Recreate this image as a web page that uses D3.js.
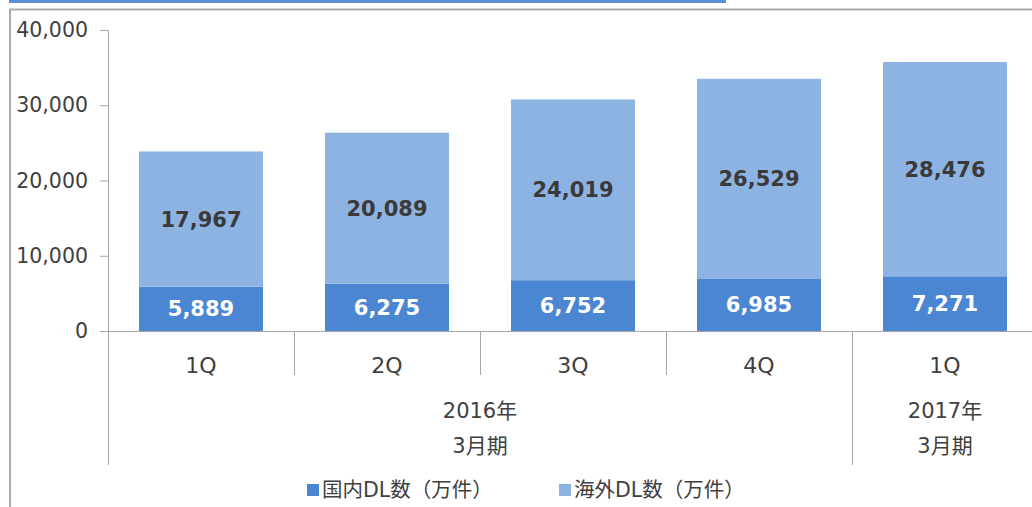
<!DOCTYPE html>
<html>
<head>
<meta charset="utf-8">
<script src="https://cdn.jsdelivr.net/npm/d3@7"></script>
<style>
  html, body { margin: 0; padding: 0; background: #fff; }
  svg text { font-family: "DejaVu Sans", Verdana, "Noto Sans CJK JP", sans-serif; }
</style>
</head>
<body>
<div id="chart"></div>
<script>
// data
let quarters = ["1Q", "2Q", "3Q", "4Q", "1Q"];
let periodLabels = [["2016年", "3月期"], ["2017年", "3月期"]];
let periodSpans = [4, 1];
let domestic = [5889, 6275, 6752, 6985, 7271];
let overseas = [17967, 20089, 24019, 26529, 28476];
let seriesNames = ["国内DL数（万件）", "海外DL数（万件）"];
let yTicks = [0, 10000, 20000, 30000, 40000];

let W = 1032, H = 507;
let left = 108, bandRight = 1038, baseY = 331, topY = 30;
let colors = ["#4a86d1", "#8db3e2"];
let textColor = "#404040";
let gridGray = "#a6a6a6";

var svg = d3.select("#chart").append("svg")
    .attr("width", W)
    .attr("height", H);

// frame bits round the chart
svg.append("rect").attr("x", 9).attr("y", 0).attr("width", 717).attr("height", 3).attr("fill", "#5a8fd6");
svg.append("line").attr("x1", 9).attr("x2", W).attr("y1", 9.5).attr("y2", 9.5)
    .attr("stroke", "#aaa").attr("stroke-width", 2);
svg.append("line").attr("x1", 10).attr("x2", 10).attr("y1", 9).attr("y2", H)
    .attr("stroke", "#aaa").attr("stroke-width", 2);

let idx = quarters.map((q, i) => i);
var x = d3.scaleBand()
    .domain(idx)
    .range([left, bandRight])
    .paddingInner(1 / 3)
    .paddingOuter(1 / 6);

var y = d3.scaleLinear()
    .domain([0, 40000])
    .range([baseY, topY]);

let rows = idx.map(i => ({ i: i, domestic: domestic[i], overseas: overseas[i] }));
let stack = d3.stack().keys(["domestic", "overseas"]);
let layers = stack(rows);

// bars
layers.forEach((layer, li) => {
    svg.append("g").selectAll("rect")
        .data(layer)
        .join("rect")
        .attr("x", d => x(d.data.i))
        .attr("width", x.bandwidth())
        .attr("y", d => y(d[1]))
        .attr("height", d => y(d[0]) - y(d[1]))
        .attr("fill", colors[li]);
});

// value labels
layers.forEach((layer, li) => {
    svg.append("g").selectAll("text")
        .data(layer)
        .join("text")
        .attr("x", d => x(d.data.i) + x.bandwidth() / 2)
        .attr("y", d => y((d[0] + d[1]) / 2))
        .attr("dy", "0.36em")
        .attr("text-anchor", "middle")
        .attr("font-size", 21)
        .attr("font-weight", "bold")
        .attr("fill", li === 0 ? "#fff" : "#3a3a3a")
        .text(d => d3.format(",")(d[1] - d[0]));
});

// y axis
var yAxis = svg.append("g")
    .attr("transform", `translate(${left},0)`)
    .call(d3.axisLeft(y).tickValues(yTicks).tickFormat(d3.format(",")).tickSize(8).tickSizeOuter(0).tickPadding(12));
yAxis.select(".domain").attr("stroke", gridGray);
yAxis.selectAll(".tick line").attr("stroke", gridGray);
yAxis.selectAll(".tick text")
    .attr("font-size", 20.5)
    .attr("fill", textColor);

// x baseline
svg.append("line")
    .attr("x1", left).attr("x2", W)
    .attr("y1", baseY + 0.5).attr("y2", baseY + 0.5)
    .attr("stroke", gridGray);

// category separators
let step = x.step();
let edge0 = x(0) - x.paddingOuter() * step;
let longAt = [0];
let acc = 0;
periodSpans.forEach(s => { acc += s; longAt.push(acc); });
d3.range(quarters.length).forEach(k => {
    let xx = Math.round(edge0 + k * step) + 0.5;
    svg.append("line")
        .attr("x1", xx).attr("x2", xx)
        .attr("y1", baseY)
        .attr("y2", longAt.includes(k) ? 465 : 375)
        .attr("stroke", gridGray);
});

// quarter labels
svg.append("g").selectAll("text")
    .data(idx)
    .join("text")
    .attr("x", i => x(i) + x.bandwidth() / 2)
    .attr("y", 373)
    .attr("text-anchor", "middle")
    .attr("font-size", 22)
    .attr("fill", textColor)
    .text(i => quarters[i]);

// period labels
let start = 0;
periodLabels.forEach((lines, p) => {
    let a = edge0 + start * step;
    let b = edge0 + (start + periodSpans[p]) * step;
    lines.forEach((t, j) => {
        svg.append("text")
            .attr("x", (a + b) / 2)
            .attr("y", 418 + j * 35)
            .attr("text-anchor", "middle")
            .attr("font-size", 21)
            .attr("fill", textColor)
            .text(t);
    });
    start += periodSpans[p];
});

// legend
let legendX = [307, 559];
seriesNames.forEach((name, k) => {
    svg.append("rect")
        .attr("x", legendX[k]).attr("y", 484)
        .attr("width", 12).attr("height", 12)
        .attr("fill", colors[k]);
    svg.append("text")
        .attr("x", legendX[k] + 15)
        .attr("y", 497)
        .attr("font-size", 20.5)
        .attr("fill", textColor)
        .text(name);
});
</script>
</body>
</html>
